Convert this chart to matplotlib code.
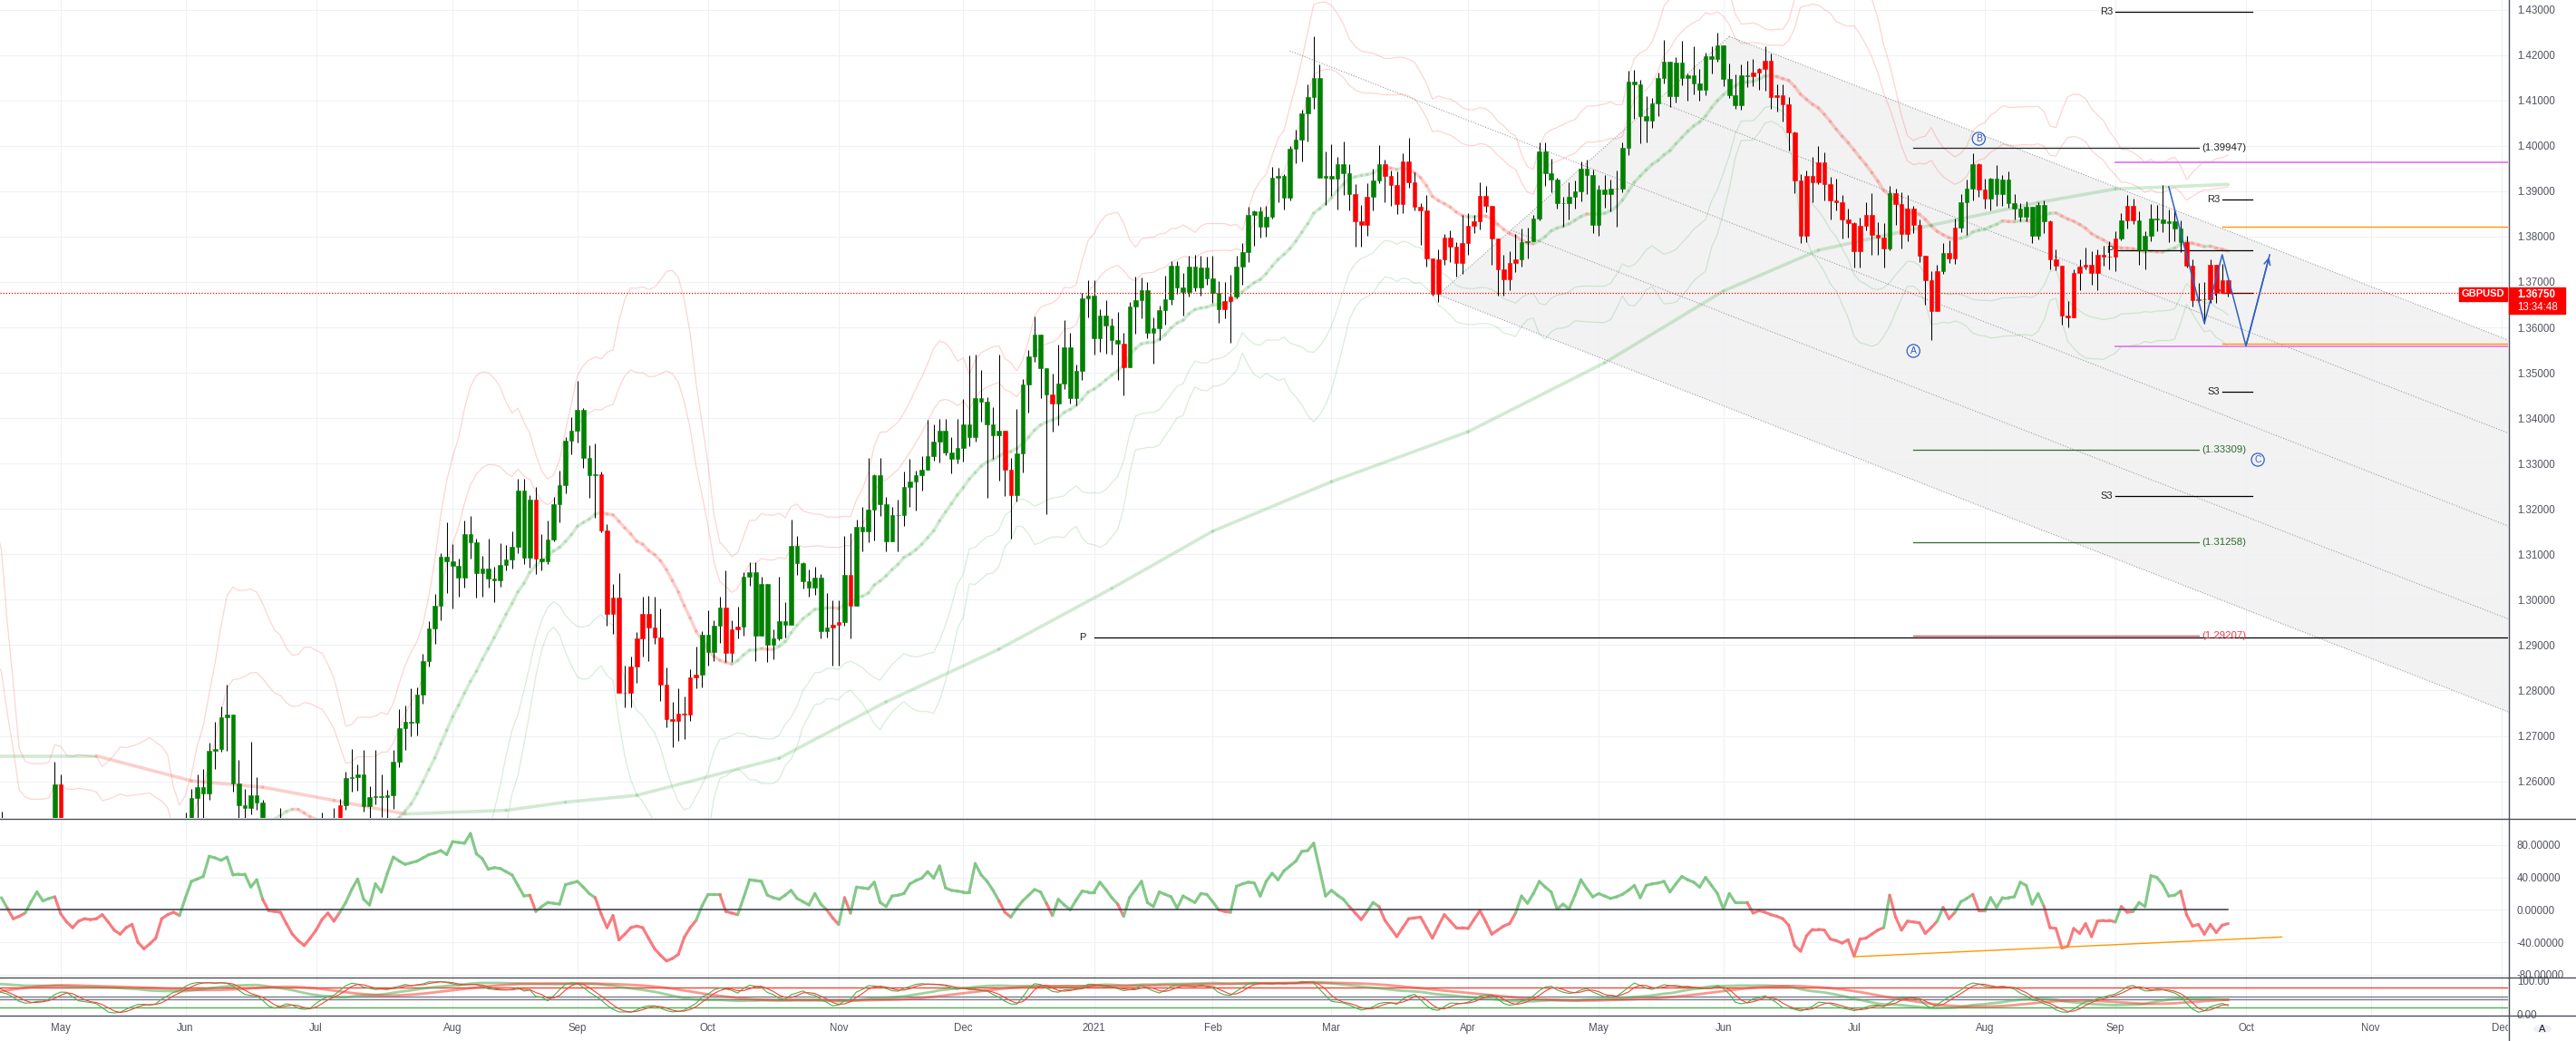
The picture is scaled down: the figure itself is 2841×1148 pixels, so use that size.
import numpy as np
import pandas as pd
import matplotlib
matplotlib.use('Agg')
import matplotlib.pyplot as plt
from matplotlib.collections import LineCollection
from matplotlib.lines import Line2D
from matplotlib.patches import Polygon, Rectangle, Circle
from matplotlib.ticker import FuncFormatter

plt.rcParams['font.family'] = ['Liberation Sans', 'DejaVu Sans']

# GBPUSD daily bars, prices in 1e-4 units, one row per week (2020-03-16 .. 2021-09-28)
closes_p = [
    12276, 12054, 11699, 11628, 11649,
    11516, 11754, 11868, 12198, 12456,
    12423, 12403, 12411, 12413, 12266,
    12258, 12351, 12392, 12450, 12452,
    12496, 12576, 12475, 12441, 12491,
    12430, 12304, 12310, 12354, 12369,
    12423, 12410, 12441, 12593, 12494,
    12432, 12436, 12343, 12402, 12406,
    12317, 12274, 12226, 12210, 12127,
    12231, 12247, 12232, 12195, 12166,
    12232, 12328, 12265, 12326, 12342,
    12495, 12563, 12587, 12574, 12668,
    12672, 12741, 12748, 12596, 12547,
    12541, 12570, 12553, 12410, 12336,
    12477, 12484, 12443, 12420, 12334,
    12339, 12400, 12474, 12472, 12488,
    12476, 12548, 12608, 12609, 12615,
    12545, 12566, 12567, 12566, 12570,
    12644, 12717, 12731, 12730, 12791,
    12865, 12937, 12986, 13094, 13085,
    13075, 13049, 13145, 13127, 13059,
    13069, 13047, 13043, 13077, 13089,
    13116, 13240, 13093, 13220, 13091,
    13085, 13132, 13211, 13252, 13350,
    13372, 13418, 13312, 13275, 13277,
    13153, 12969, 13005, 12795, 12794,
    12852, 12914, 12968, 12938, 12917,
    12813, 12738, 12733, 12749, 12748,
    12829, 12835, 12922, 12884, 12942,
    12982, 12882, 12935, 12940, 13050,
    13060, 12920, 13034, 12900, 12915,
    12953, 12944, 13119, 13080, 13040,
    13027, 13049, 12930, 12939, 12945,
    12950, 13055, 12986, 13161, 13150,
    13198, 13275, 13210, 13128, 13187,
    13187, 13249, 13261, 13275, 13286,
    13317, 13348, 13372, 13324, 13311,
    13335, 13386, 13359, 13444, 13436,
    13386, 13363, 13373, 13286, 13230,
    13322, 13474, 13536, 13585, 13510,
    13452, 13433, 13476, 13557,
    13445, 13504, 13663, 13670,
    13577, 13626, 13604, 13572, 13564,
    13512, 13646, 13660, 13682, 13589,
    13599, 13637, 13662, 13735, 13688,
    13677, 13734, 13687, 13732, 13707,
    13675, 13640, 13657, 13667, 13734,
    13765, 13848, 13855, 13821, 13843,
    13930, 13934, 13885, 13994, 14014,
    14071, 14108, 14150, 13930, 13934,
    13927, 13959, 13939, 13893, 13834,
    13826, 13888, 13924, 13960, 13933,
    13914, 13872, 13965, 13920, 13865,
    13858, 13751, 13674, 13750, 13798,
    13778, 13741, 13785, 13824, 13834,
    13889, 13867, 13795, 13727, 13706,
    13741, 13749, 13787, 13790, 13839,
    13987, 13940, 13925, 13874, 13873,
    13887, 13899, 13950, 13936, 13826,
    13903, 13894, 13905, 13905, 13996,
    14142, 14135, 14065, 14056, 14093,
    14149, 14185, 14110, 14183, 14150,
    14155, 14138, 14123, 14198, 14191,
    14221, 14147, 14111, 14090, 14156,
    14154, 14161, 14170, 14188, 14108,
    14111, 14091, 14030, 13923, 13801,
    13933, 13920, 13964, 13916, 13879,
    13876, 13837, 13829, 13767, 13823,
    13848, 13804, 13797, 13774, 13896,
    13871, 13806, 13861, 13825, 13758,
    13704, 13636, 13723, 13763, 13752,
    13819, 13876, 13906, 13960, 13903,
    13884, 13927, 13893, 13925, 13873,
    13862, 13844, 13866, 13801, 13869,
    13833, 13749, 13736, 13626, 13622,
    13720, 13734, 13738, 13719, 13760,
    13756, 13755, 13795, 13836, 13868,
    13835, 13769, 13802, 13840, 13837,
    13830, 13834, 13818, 13787, 13735,
    13660, 13661, 13662, 13738, 13676,
    13704, 13675,
]
highs_p = [
    12480, 12300, 12102, 11770, 11800,
    11722, 11873, 11935, 12244, 12486,
    12439, 12484, 12478, 12452, 12416,
    12348, 12404, 12422, 12540, 12479,
    12509, 12647, 12593, 12512, 12533,
    12514, 12445, 12354, 12404, 12392,
    12448, 12478, 12485, 12643, 12615,
    12500, 12474, 12453, 12420, 12436,
    12420, 12391, 12312, 12286, 12247,
    12296, 12281, 12296, 12252, 12230,
    12263, 12357, 12358, 12373, 12385,
    12531, 12583, 12616, 12627, 12686,
    12731, 12766, 12813, 12741, 12647,
    12583, 12688, 12610, 12559, 12467,
    12481, 12542, 12496, 12470, 12440,
    12385, 12411, 12479, 12532, 12504,
    12542, 12562, 12622, 12671, 12638,
    12670, 12590, 12669, 12615, 12581,
    12670, 12760, 12768, 12805, 12807,
    12880, 12952, 13013, 13102, 13170,
    13122, 13090, 13174, 13185, 13134,
    13097, 13134, 13072, 13124, 13120,
    13151, 13267, 13266, 13231, 13249,
    13145, 13174, 13227, 13284, 13358,
    13402, 13482, 13422, 13341, 13344,
    13283, 13166, 13035, 13059, 12854,
    12875, 12929, 13007, 13008, 13007,
    12981, 12850, 12776, 12805, 12786,
    12847, 12896, 12930, 12977, 12955,
    13007, 13064, 12954, 12985, 13060,
    13083, 13082, 13050, 13033, 12935,
    13051, 12995, 13177, 13141, 13082,
    13067, 13073, 13057, 13014, 12998,
    12999, 13140, 13146, 13177, 13204,
    13312, 13276, 13313, 13226, 13205,
    13220, 13283, 13310, 13285, 13317,
    13396, 13387, 13399, 13398, 13358,
    13398, 13443, 13539, 13540, 13506,
    13447, 13425, 13540, 13358, 13312,
    13420, 13486, 13551, 13624, 13585,
    13510, 13499, 13562, 13617,
    13588, 13518, 13675, 13704,
    13704, 13639, 13660, 13620, 13634,
    13589, 13656, 13711, 13710, 13700,
    13623, 13647, 13713, 13746, 13745,
    13719, 13758, 13760, 13757, 13756,
    13758, 13701, 13700, 13715, 13757,
    13785, 13866, 13858, 13865, 13868,
    13954, 13952, 13937, 14000, 14035,
    14080, 14135, 14241, 14180, 13987,
    14004, 13975, 14009, 13960, 13916,
    13870, 13917, 13950, 14001, 13970,
    13945, 13943, 13983, 14018, 13942,
    13874, 13892, 13745, 13772, 13806,
    13814, 13788, 13848, 13851, 13847,
    13919, 13912, 13868, 13780, 13759,
    13767, 13806, 13818, 13819, 13848,
    14007, 14008, 13971, 13929, 13887,
    13920, 13924, 13966, 13970, 13947,
    13913, 13935, 13925, 13946, 14007,
    14166, 14168, 14145, 14109, 14105,
    14162, 14234, 14185, 14196, 14231,
    14160, 14219, 14170, 14206, 14220,
    14249, 14221, 14181, 14158, 14179,
    14187, 14191, 14171, 14219, 14203,
    14136, 14135, 14107, 14032, 13938,
    13945, 13975, 14000, 13985, 13932,
    13928, 13892, 13862, 13831, 13842,
    13876, 13896, 13832, 13830, 13911,
    13906, 13898, 13891, 13868, 13838,
    13758, 13724, 13737, 13785, 13791,
    13839, 13893, 13925, 13983, 13961,
    13928, 13930, 13958, 13935, 13944,
    13893, 13874, 13877, 13866, 13875,
    13880, 13836, 13771, 13726, 13657,
    13728, 13750, 13775, 13767, 13771,
    13780, 13790, 13811, 13852, 13891,
    13884, 13855, 13811, 13872, 13869,
    13914, 13860, 13863, 13836, 13802,
    13750, 13697, 13700, 13749, 13738,
    13740, 13706,
]
lows_p = [
    12200, 11980, 11520, 11452, 11409,
    11451, 11493, 11647, 11838, 12094,
    12263, 12291, 12326, 12354, 12205,
    12164, 12251, 12318, 12379, 12420,
    12409, 12464, 12458, 12408, 12430,
    12410, 12247, 12264, 12320, 12310,
    12372, 12400, 12400, 12454, 12453,
    12403, 12393, 12319, 12267, 12346,
    12265, 12266, 12219, 12184, 12076,
    12124, 12214, 12164, 12183, 12163,
    12175, 12247, 12213, 12256, 12286,
    12328, 12462, 12482, 12519, 12560,
    12628, 12666, 12668, 12578, 12465,
    12392, 12528, 12537, 12396, 12316,
    12331, 12410, 12394, 12391, 12307,
    12252, 12311, 12377, 12446, 12456,
    12454, 12452, 12537, 12578, 12580,
    12534, 12482, 12549, 12522, 12500,
    12540, 12631, 12669, 12700, 12701,
    12772, 12853, 12903, 12955, 13015,
    12980, 13007, 13026, 13090, 13004,
    13006, 13027, 12995, 13028, 13064,
    13068, 13103, 13079, 13070, 13057,
    13064, 13078, 13128, 13171, 13234,
    13320, 13346, 13291, 13225, 13180,
    13148, 12942, 12925, 12795, 12763,
    12763, 12816, 12874, 12865, 12902,
    12777, 12719, 12676, 12690, 12694,
    12734, 12805, 12806, 12855, 12865,
    12905, 12863, 12862, 12915, 12921,
    13030, 12864, 12923, 12863, 12868,
    12910, 12916, 12957, 13054, 13024,
    13007, 13011, 12915, 12917, 12855,
    12855, 12943, 12914, 12988, 13107,
    13126, 13131, 13185, 13107, 13132,
    13107, 13163, 13204, 13196, 13241,
    13290, 13306, 13303, 13318, 13279,
    13301, 13305, 13338, 13348, 13393,
    13225, 13311, 13262, 13228, 13134,
    13216, 13281, 13412, 13525, 13445,
    13189, 13371, 13385, 13464,
    13432, 13428, 13485, 13622,
    13541, 13546, 13543, 13540, 13485,
    13451, 13524, 13586, 13621, 13577,
    13520, 13572, 13606, 13650, 13673,
    13626, 13667, 13679, 13669, 13694,
    13654, 13610, 13620, 13567, 13663,
    13693, 13743, 13779, 13798, 13800,
    13839, 13876, 13860, 13880, 13962,
    13965, 14009, 14082, 13929, 13870,
    13889, 13859, 13892, 13858, 13778,
    13778, 13802, 13857, 13917, 13875,
    13868, 13850, 13852, 13907, 13858,
    13781, 13734, 13670, 13655, 13738,
    13743, 13712, 13718, 13759, 13808,
    13815, 13853, 13738, 13670, 13669,
    13682, 13721, 13734, 13752, 13790,
    13835, 13912, 13897, 13862, 13822,
    13837, 13862, 13878, 13893, 13808,
    13802, 13864, 13855, 13822, 13898,
    13980, 14060, 14005, 14007, 14040,
    14065, 14138, 14086, 14095, 14134,
    14100, 14113, 14100, 14111, 14160,
    14185, 14131, 14106, 14082, 14080,
    14130, 14131, 14123, 14122, 14082,
    14076, 14054, 13990, 13896, 13786,
    13787, 13875, 13916, 13880, 13837,
    13858, 13795, 13798, 13732, 13731,
    13814, 13760, 13759, 13731, 13770,
    13825, 13773, 13789, 13808, 13744,
    13650, 13572, 13635, 13717, 13741,
    13740, 13809, 13803, 13880, 13888,
    13862, 13858, 13868, 13867, 13864,
    13838, 13833, 13834, 13785, 13793,
    13808, 13727, 13726, 13606, 13601,
    13624, 13681, 13728, 13694, 13681,
    13735, 13727, 13724, 13792, 13817,
    13827, 13738, 13727, 13790, 13812,
    13809, 13788, 13790, 13766, 13731,
    13646, 13649, 13609, 13653, 13654,
    13677, 13668,
]
holidays = ['2020-12-25', '2021-01-01']

# trend oscillator (middle panel), one value per bar starting 2020-04-17
osc_start = '2020-04-17'
osc_vals = [
    15, 2, -11, -8, -4, 10, 22, 11, 14, 16,
    -5, -15, -22, -14, -11, -12, -11, -6, -15, -25,
    -30, -22, -18, -40, -48, -42, -35, -11, -6, -3,
    -7, 15, 35, 38, 41, 66, 64, 61, 65, 43,
    44, 44, 28, 37, 13, -1, -2, -3, -17, -30,
    -38, -44, -35, -25, -12, -4, -14, -3, 9, 25,
    38, 13, 6, 32, 22, 45, 65, 60, 56, 58,
    60, 64, 68, 70, 73, 68, 84, 83, 82, 94,
    69, 63, 50, 52, 51, 47, 43, 30, 17, 18,
    -2, 4, 9, 8, 7, 31, 33, 35, 28, 20,
    15, -5, -22, -7, -37, -30, -22, -20, -22, -35,
    -48, -56, -63, -60, -55, -34, -22, -13, 5, 19,
    19, 19, -2, -4, -6, 15, 37, 36, 35, 18,
    15, 13, 18, 24, 14, 10, 6, 20, 7, 0,
    -10, -18, 15, -4, 28, 27, 26, 34, 9, 4,
    17, 18, 20, 32, 36, 39, 47, 39, 54, 27,
    24, 23, 22, 22, 57, 43, 35, 24, 11, -3,
    -9, 2, 11, 18, 25, 22, 8, -7, 13, 6,
    0, 12, 23, 22, 22, 34, 25, 15, 7, -8,
    15, 25, 35, 9, 4, 22, 19, 16, 2, 17,
    13, 9, 20, 19, 10, 0, -2, -3, 29, 32,
    34, 33, 17, 35, 45, 37, 48, 54, 60, 72,
    73, 82, 50, 17, 24, 18, 13, 4, -4, -12,
    -2, 9, 4, -13, -23, -33, -22, -11, -10, -9,
    -22, -35, -20, -6, -14, -22, -22, -23, -12, -1,
    -15, -30, -25, -20, -17, -4, 17, 8, 20, 35,
    28, 22, 1, 7, 1, 18, 37, 26, 16, 20,
    17, 14, 16, 19, 24, 30, 15, 30, 32, 33,
    35, 22, 32, 41, 37, 34, 28, 40, 30, 20,
    1, 20, 9, 9, 9, -4, -1, -3, -6, -8,
    -11, -19, -44, -51, -32, -24, -24, -25, -36, -38,
    -41, -37, -57, -36, -35, -30, -25, -22, 18, -9,
    -25, -14, -15, -16, -29, -22, -14, 3, -11, -3,
    10, 14, 19, -1, -1, 15, 3, 15, 15, 16,
    34, 30, 7, 20, 4, -22, -23, -47, -45, -23,
    -29, -17, -33, -14, -13, -13, -15, 4, -3, -2,
    9, 4, 42, 40, 31, 17, 18, 23, -6, -20,
    -18, -30, -18, -28, -19, -17,
]

# long moving average
ma_long_dates = ['2020-04-16', '2020-05-11', '2020-06-02', '2020-06-18', '2020-07-06',
                 '2020-07-22', '2020-08-14', '2020-08-28', '2020-09-15', '2020-10-19',
                 '2020-11-12', '2020-12-09', '2021-01-07', '2021-02-01', '2021-03-01',
                 '2021-04-01', '2021-05-04', '2021-06-01', '2021-06-23', '2021-07-20',
                 '2021-08-13', '2021-09-01', '2021-09-28']
ma_long_vals = [1.2656, 1.2656, 1.2601, 1.2587, 1.2558,
                1.2528, 1.2536, 1.2554, 1.2569, 1.2651,
                1.2775, 1.2891, 1.3025, 1.3151, 1.3260,
                1.3370, 1.3522, 1.3680, 1.3770, 1.3825,
                1.3875, 1.3905, 1.3915]

last_price = 1.36750
countdown = '13:34:48'
symbol = 'GBPUSD'

pitchfork_dates = ['2021-02-18', '2021-03-25', '2021-06-02']
pitchfork_prices = [1.4209, 1.3672, 1.4241]

pivot_names = ['R3', 'P', 'S3']
monthly_pivots = [1.42946, 1.37692, 1.32285]
weekly_pivots = [1.38810, 1.36753, 1.34576]
yearly_pivot = 1.29163

target_vals = [1.39947, 1.33309, 1.31258, 1.29207]
target_colors = ['#222222', '#2E6B2E', '#2E6B2E', '#F23645']

magenta_vals = [1.39642, 1.35574]
orange_vals = [1.38220, 1.35647]

wave_names = ['A', 'B', 'C']
wave_dates = ['2021-07-15', '2021-07-30', '2021-10-05']
wave_prices = [1.35481, 1.40155, 1.33084]

path_dates = ['2021-09-14', '2021-09-22', '2021-09-27', '2021-10-01', '2021-10-07']
path_prices = [1.3910, 1.3609, 1.3760, 1.3559, 1.3760]

osc_line_dates = ['2021-07-01', '2021-10-11']
osc_line_vals = [-57.8, -33.5]

stoch_levels = [80, 52, 45, 20]
stoch_level_colors = ['#F44336', '#787B86', '#787B86', '#4CAF50']

# ---------------------------------------------------------------------------
dates = pd.bdate_range('2020-03-16', '2021-12-31')
dates = dates[~dates.isin(pd.to_datetime(holidays))]
pos_of = {d: i for i, d in enumerate(dates)}


def at(s):
    return pos_of[pd.Timestamp(s)]


close = np.array(closes_p) / 1e4
high = np.array(highs_p) / 1e4
low = np.array(lows_p) / 1e4
n = len(close)
assert len(high) == n and len(low) == n
idx = np.arange(n)
opn = np.r_[close[0], close[:-1]]
high = np.maximum(high, np.maximum(opn, close))
low = np.minimum(low, np.minimum(opn, close))

osc = np.full(n, np.nan)
o0 = at(osc_start)
osc[o0:o0 + len(osc_vals)] = osc_vals

GREEN = '#008000'
RED = '#FF0000'
bar_col = np.where(np.nan_to_num(osc, nan=1) < 0, RED, GREEN)

W, H = 2841, 1148
PR = 2766  # right edge of plotting area in px
fig = plt.figure(figsize=(W / 100, H / 100), dpi=100)


def fx(px):
    return px / W


def fy(py):
    return 1 - py / H


ax = fig.add_axes([0, fy(902), fx(PR), 902 / H])
ax_osc = fig.add_axes([0, fy(1077.7), fx(PR), (1077.7 - 903) / H])
ax_st = fig.add_axes([0, fy(1120.3), fx(PR), (1120.3 - 1077.7) / H])
ax_dt = fig.add_axes([0, 0, fx(PR), (H - 1120.3) / H])

XL = (23.77, 446.13)
month_idx = [i for i in range(1, len(dates))
             if dates[i].month != dates[i - 1].month and XL[0] < i < XL[1]]
month_lab = ['2021' if dates[i].month == 1 else dates[i].strftime('%b') for i in month_idx]

GRID = '#EEF1F6'
TXT = '#50535E'
for a in (ax, ax_osc, ax_st, ax_dt):
    for s in a.spines.values():
        s.set_visible(False)
    a.set_xticks(month_idx)
    a.set_xlim(*XL)
    a.tick_params(axis='x', length=0, labelbottom=False)
    a.set_axisbelow(True)

for a in (ax, ax_osc, ax_st):
    a.yaxis.tick_right()
    a.tick_params(axis='y', length=0, pad=7.2, labelsize=8.3, labelcolor=TXT)
    a.grid(True, axis='x', color=GRID, lw=0.8)

ax.set_yticks(np.round(np.arange(1.26, 1.4301, 0.01), 2))
ax.yaxis.set_major_formatter(FuncFormatter(lambda v, p: f'{v:.5f}'))
ax.grid(True, axis='y', color=GRID, lw=0.8)
ax_osc.set_yticks([-80, -40, 0, 40, 80])
ax_osc.yaxis.set_major_formatter(FuncFormatter(lambda v, p: f'{v:.5f}'))
ax_osc.grid(True, axis='y', color=GRID, lw=0.8)
ax_st.set_yticks([0, 100])
ax_st.yaxis.set_major_formatter(FuncFormatter(lambda v, p: f'{v:.2f}'))
ax.set_ylim(1.25193, 1.43212)
ax_osc.set_ylim(-83.1, 112.1)
ax_st.set_ylim(-5.5, 110)
ax_dt.set_ylim(0, 1)
ax_dt.set_yticks([])
for i, lab in zip(month_idx, month_lab):
    ax_dt.text(i, 0.5, lab, ha='center', va='center', fontsize=8.3, color=TXT, clip_on=True)


def seg_line(a, xs, ys, cols, lw, alpha=1.0, z=2):
    pts = np.column_stack([xs, ys])
    segs = np.stack([pts[:-1], pts[1:]], axis=1)
    a.add_collection(LineCollection(segs, colors=cols, linewidths=lw, alpha=alpha,
                                    zorder=z, capstyle='round', joinstyle='round'))


# --- pitchfork ---
pf_i = [at(d) for d in pitchfork_dates]
pf_v = pitchfork_prices
mid_i = (pf_i[1] + pf_i[2]) / 2
mid_v = (pf_v[1] + pf_v[2]) / 2
slope = (mid_v - pf_v[0]) / (mid_i - pf_i[0])
XE = 470
ax.add_patch(Polygon([(pf_i[1], pf_v[1]), (pf_i[2], pf_v[2]),
                      (XE, pf_v[2] + slope * (XE - pf_i[2])),
                      (XE, pf_v[1] + slope * (XE - pf_i[1]))],
                     closed=True, fc='#F2F2F2', ec='none', zorder=0.3))
DOT = dict(color='#9A9CA3', lw=0.8, ls=(0, (1, 1.6)), zorder=1)
ax.plot([pf_i[0], XE], [pf_v[0], pf_v[0] + slope * (XE - pf_i[0])], **DOT)
ax.plot([pf_i[1], pf_i[2]], [pf_v[1], pf_v[2]], **DOT)
for f in (0.0, 0.25, 0.75, 1.0):
    si = pf_i[1] + f * (pf_i[2] - pf_i[1])
    sv = pf_v[1] + f * (pf_v[2] - pf_v[1])
    ax.plot([si, XE], [sv, sv + slope * (XE - si)], **DOT)

# --- bands and moving averages ---
cs = pd.Series(close)
sma20 = cs.rolling(20).mean().values
sd20 = cs.rolling(20).std(ddof=0).values
v = ~np.isnan(sma20)
PINK_C = '#F44336'
GRN_C = '#4CAF50'
for k in (2, 3):
    ax.plot(idx[v], (sma20 + k * sd20)[v], color=PINK_C, alpha=0.22, lw=0.9, zorder=1.5)
    ax.plot(idx[v], (sma20 - k * sd20)[v], color=GRN_C, alpha=0.22, lw=0.9, zorder=1.5)
ys = sma20[v]
seg_line(ax, idx[v], ys, np.where(np.diff(ys) >= 0, GRN_C, PINK_C), 2.6, alpha=0.25, z=1.6)
mx = np.array([at(d) for d in ma_long_dates], float)
my = np.array(ma_long_vals)
seg_line(ax, mx, my, np.where(np.diff(my) >= 0, GRN_C, PINK_C), 2.6, alpha=0.25, z=1.6)

# --- level lines and labels ---
ax.axhline(last_price, color=RED, lw=0.9, ls=(0, (1, 1.5)), zorder=6)
m0, w0, end = at('2021-09-01'), at('2021-09-27'), at('2021-10-04')
for name, pv, wv in zip(pivot_names, monthly_pivots, weekly_pivots):
    ax.plot([m0, end], [pv, pv], color='black', lw=0.9, zorder=3)
    ax.text(m0 - 0.4, pv, name, ha='right', va='center', fontsize=8, color='#222222', zorder=3)
    ax.plot([w0, end], [wv, wv], color='black', lw=0.9, zorder=3)
    ax.text(w0 - 0.4, wv, name, ha='right', va='center', fontsize=8, color='#222222', zorder=3)
y0 = at('2021-01-04')
ax.plot([y0, XE], [yearly_pivot, yearly_pivot], color='black', lw=0.9, zorder=3)
ax.text(y0 - 1.3, yearly_pivot, 'P', ha='right', va='center', fontsize=8, color='#222222')
t0, t1 = at('2021-07-15'), at('2021-09-21')
for tv, tc in zip(target_vals, target_colors):
    ax.plot([t0, t1], [tv, tv], color=tc, lw=0.9, zorder=3)
    ax.text(t1 + 0.6, tv, f'({tv:.5f})', ha='left', va='center', fontsize=8.2, color=tc, zorder=3)
for mv in magenta_vals:
    ax.plot([m0, XE], [mv, mv], color='#E57BF2', lw=1.3, zorder=3)
for ov in orange_vals:
    ax.plot([w0, XE], [ov, ov], color='#FF9800', lw=1.0, zorder=3)

# --- candles ---
ax.vlines(idx, low, high, color='black', lw=0.75, zorder=4)
body_lo = np.minimum(opn, close)
body_hi = np.maximum(opn, close)
ax.bar(idx, body_hi - body_lo, bottom=body_lo, width=0.7, color=bar_col,
       edgecolor=bar_col, lw=0.4, zorder=5)

# --- wave labels and projection ---
BLUE = '#2F5FC4'
for nm, d, pv in zip(wave_names, wave_dates, wave_prices):
    ax.text(at(d), pv, nm, ha='center', va='center', fontsize=7.5, color=BLUE, zorder=7,
            bbox=dict(boxstyle='circle,pad=0.2', fc='none', ec=BLUE, lw=0.9))
px_ = [at(d) for d in path_dates]
ax.plot(px_, path_prices, color=BLUE, lw=1.1, zorder=7)
ax.annotate('', xy=(px_[-1], path_prices[-1]), xytext=(px_[-2], path_prices[-2]),
            arrowprops=dict(arrowstyle='->', color=BLUE, lw=1.1, mutation_scale=12), zorder=7)

# --- oscillator panel ---
ov_ = ~np.isnan(osc)
oxs, oys = idx[ov_], osc[ov_]
seg_line(ax_osc, oxs, oys, np.where(oys[1:] < 0, '#F7767A', '#7FC683'), 2.3, alpha=0.95, z=3)
ax_osc.plot([XL[0], oxs[-1]], [0, 0], color='#363A45', lw=1.1, zorder=4)
ax_osc.plot([at(d) for d in osc_line_dates], osc_line_vals, color='#FF9800', lw=1.0, zorder=4)

# --- stochastic panel ---
hs, ls_ = pd.Series(high), pd.Series(low)


def stoch(period, ks, ds):
    hh = hs.rolling(period, min_periods=1).max()
    ll = ls_.rolling(period, min_periods=1).min()
    raw = 100 * (cs - ll) / (hh - ll)
    kk = raw.rolling(ks, min_periods=1).mean()
    return kk.values, kk.rolling(ds, min_periods=1).mean().values


fk, fd = stoch(14, 3, 3)
sk, sd = stoch(60, 15, 15)
s0 = 18
ax_st.plot(idx[s0:], sk[s0:], color=GRN_C, lw=2.0, alpha=0.55, zorder=2)
ax_st.plot(idx[s0:], sd[s0:], color=PINK_C, lw=2.0, alpha=0.55, zorder=2)
ax_st.plot(idx[s0:], fk[s0:], color=GRN_C, lw=0.8, zorder=3)
ax_st.plot(idx[s0:], fd[s0:], color=PINK_C, lw=0.8, zorder=3)
for lv, lc in zip(stoch_levels, stoch_level_colors):
    ax_st.axhline(lv, color=lc, lw=1.0, zorder=1)

for a in (ax, ax_osc, ax_st, ax_dt):
    a.set_xlim(*XL)

# --- frame lines, price tags ---
SEP = '#4A4D57'
for yy in (902.5, 1077.7, 1120.3):
    fig.add_artist(Line2D([0, 1], [fy(yy), fy(yy)], color=SEP, lw=1.0))
fig.add_artist(Line2D([fx(PR + 0.5), fx(PR + 0.5)], [0, 1], color=SEP, lw=1.0))

fig.add_artist(Rectangle((fx(2712), fy(331.5)), fx(53), 15 / H, color=RED, zorder=10))
fig.text(fx(2738.5), fy(324), symbol, ha='center', va='center', fontsize=8,
         fontweight='bold', color='white', zorder=11)
fig.add_artist(Rectangle((fx(PR + 1), fy(346)), fx(62), 29 / H, color=RED, zorder=10))
fig.text(fx(2776), fy(324.5), f'{last_price:.5f}', ha='left', va='center', fontsize=8.3,
         fontweight='bold', color='white', zorder=11)
fig.text(fx(2776), fy(338.5), countdown, ha='left', va='center', fontsize=8.3,
         color='white', zorder=11)

fig.add_artist(Circle((fx(2804), fy(1134.5)), 9.5 / W, color='#EEF0F3', zorder=10,
                      transform=fig.transFigure))
fig.text(fx(2804), fy(1134.5), 'A', ha='center', va='center', fontsize=8, color='#131722',
         zorder=11)

fig.savefig('out.png', dpi=100)
